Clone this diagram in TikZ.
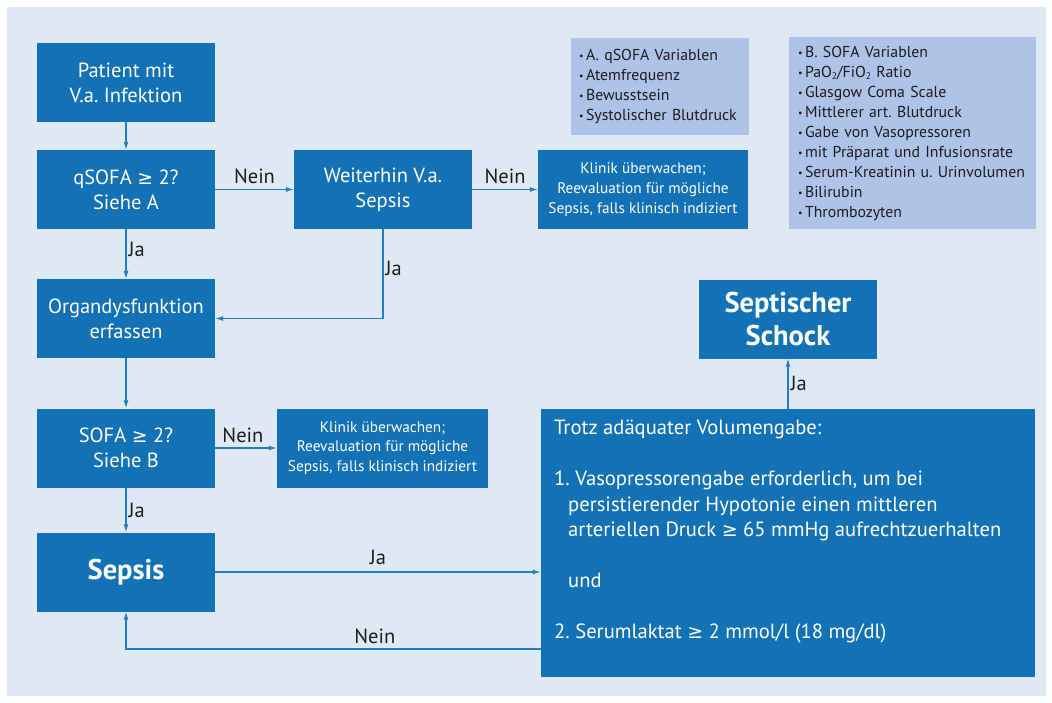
\documentclass[tikz,border=0pt]{standalone}
\usepackage{fontspec}
\setmainfont{PT Sans}
\newfontfamily\symf[Scale=0.92]{DejaVu Sans}
\usetikzlibrary{arrows.meta,positioning,calc}
\definecolor{bgblue}{RGB}{223,233,244}
\definecolor{boxblue}{RGB}{19,114,181}
\definecolor{infoblue}{RGB}{173,195,231}
\definecolor{lineblue}{RGB}{35,125,195}
\definecolor{txtdark}{RGB}{30,28,29}
\newcommand{\bul}{\raisebox{0.6pt}{\fontsize{10}{10}\selectfont •}\hspace{2.5pt}}
\newcommand{\subtwo}{\raisebox{-2.5pt}{\fontsize{9.5}{9.5}\selectfont 2}}
\newcommand{\gee}{{\symf ≥}}
\frenchspacing
\tikzset{
  mainbox/.style={fill=boxblue, text=white, minimum width=178pt, minimum height=79pt,
    inner sep=0pt, align=center, font=\fontsize{20.5}{25}\selectfont},
  klinikbox/.style={fill=boxblue, text=white, minimum width=210pt, minimum height=79pt,
    inner sep=0pt, align=center, font=\fontsize{15.3}{19.7}\selectfont},
  boldbox/.style={fill=boxblue, text=white, minimum width=178pt, minimum height=79pt,
    inner sep=0pt, align=center, font=\fontsize{28.5}{33}\selectfont\bfseries},
  infobox/.style={fill=infoblue, text=txtdark, inner ysep=0pt, align=left,
    font=\fontsize{15.8}{20}\selectfont},
  bigbox/.style={fill=boxblue, minimum width=494pt, minimum height=268pt, inner sep=0pt},
  bigtext/.style={text=white, inner sep=0pt, align=left, font=\fontsize{20.6}{25.5}\selectfont},
  arr/.style={draw=lineblue, line width=1.1pt, -{Latex[length=8pt,width=5pt]}},
  lab/.style={text=txtdark, font=\fontsize{20.5}{24}\selectfont, inner sep=2pt}
}
\begin{document}
\begin{tikzpicture}[x=1pt,y=-1pt]
\useasboundingbox (0,0) rectangle (1052,702);
\fill[white] (0,0) rectangle (1052,702);
\fill[bgblue] (7,7) rectangle (1046,696);

% main column
\node[mainbox] (patient) at (126,82.5) {Patient mit\\V.a. Infektion};
\node[mainbox] (qsofa) at (126,189.5) {qSOFA \gee{} 2?\\Siehe A};
\node[mainbox] (weiter) at (383,189.5) {Weiterhin V.a.\\Sepsis};
\node[klinikbox] (klinik1) at (643,189.5) {Klinik überwachen;\\Reevaluation für mögliche\\Sepsis, falls klinisch indiziert};
\node[mainbox] (organ) at (126,318.5) {Organdysfunktion\\erfassen};
\node[mainbox] (sofa) at (126,448) {SOFA \gee{} 2?\\Siehe B};
\node[klinikbox, minimum width=211pt] (klinik2) at (382.5,448) {Klinik überwachen;\\Reevaluation für mögliche\\Sepsis, falls klinisch indiziert};
\node[boldbox] (sepsis) at (126,572) {Sepsis};
\node[boldbox] (schock) at (788,319) {Septischer\\Schock};

% big box
\node[bigbox] (big) at (788,543) {};
\node[bigtext, anchor=north west] (bigtxt) at (554,420) {Trotz adäquater Volumengabe:\\[25.5pt]
1. Vasopressorengabe erforderlich, um bei\\
\hspace*{14pt}persistierender Hypotonie einen mittleren\\
\hspace*{14pt}arteriellen Druck \gee{} 65 mmHg aufrechtzuerhalten\\[25.5pt]
\hspace*{14pt}und\\[25.5pt]
2. Serumlaktat \gee{} 2 mmol/l (18 mg/dl)};

% info boxes
\node[infobox, text width=162pt, inner xsep=8pt, minimum height=97pt] (infoA) at (660,86)
{\bul A. qSOFA Variablen\\\bul Atemfrequenz\\\bul Bewusstsein\\\bul Systolischer Blutdruck};
\node[infobox, text width=229pt, inner xsep=9pt, minimum height=192pt] (infoB) at (912.5,133)
{\bul B. SOFA Variablen\\\bul PaO\subtwo/FiO\subtwo{} Ratio\\\bul Glasgow Coma Scale\\\bul Mittlerer art. Blutdruck\\\bul Gabe von Vasopressoren\\\bul mit Präparat und Infusionsrate\\\bul Serum-Kreatinin u. Urinvolumen\\\bul Bilirubin\\\bul Thrombozyten};

% connectors
\draw[arr] (patient) -- (qsofa);
\draw[arr] (qsofa) -- node[lab, above=3pt]{Nein} (weiter);
\draw[arr] (weiter) -- node[lab, above=3pt]{Nein} (klinik1);
\draw[arr] (weiter.south) |- node[lab, right, pos=0.22]{Ja} (organ.east);
\draw[arr] (qsofa) -- node[lab, right, pos=0.4]{Ja} (organ);
\draw[arr] (organ) -- (sofa);
\draw[arr] (sofa) -- node[lab, above=3pt, pos=0.45]{Nein} (klinik2);
\draw[arr] (sofa) -- node[lab, right]{Ja} (sepsis);
\draw[arr] (sepsis.east) -- node[lab, above=5pt]{Ja} (sepsis.east -| big.west);
\draw[arr] ([yshift=-106pt]big.west) -| node[lab, above=3pt, pos=0.2]{Nein} (sepsis.south);
\draw[arr] (big.north -| schock.south) -- node[lab, right]{Ja} (schock.south);
\end{tikzpicture}
\end{document}
